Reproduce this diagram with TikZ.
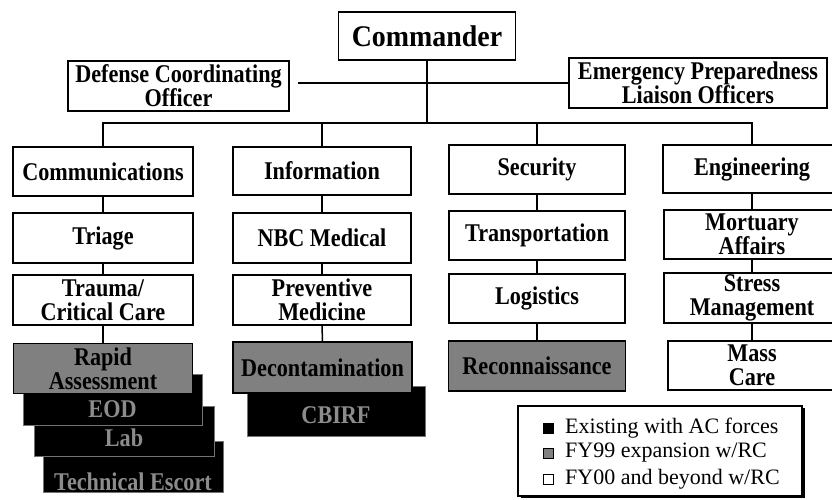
\documentclass[tikz,border=0pt]{standalone}
\usepackage{fontspec}
\setmainfont{Liberation Serif}
\newfontfamily\boxfont{Liberation Serif}[FakeStretch=0.87]
\newfontfamily\cmdfont{Liberation Serif}[FakeStretch=0.93]
\usetikzlibrary{shadows}
\begin{document}
\begin{tikzpicture}[x=1pt,y=-1pt,
  box/.style={draw, line width=1.5pt, fill=white, inner sep=0pt, align=center,
    font=\boxfont\bfseries\fontsize{25.5}{24}\selectfont},
  greybox/.style={box, fill=black!50},
  darkbox/.style={draw=black!55, line width=1pt, fill=black, inner sep=0pt},
  dimtext/.style={text=black!45, inner sep=0pt, font=\boxfont\bfseries\fontsize{25.5}{24}\selectfont},
  link/.style={line width=1.5pt},
  legsq/.style={draw, line width=0.8pt, minimum size=10pt, inner sep=0pt},
  legtext/.style={anchor=west, inner sep=0pt, font=\fontsize{22}{23}\selectfont}]
\useasboundingbox (0,0) rectangle (832,500);

% top level
\node[box, minimum width=177pt, minimum height=48pt,
  font=\cmdfont\bfseries\fontsize{30}{30}\selectfont] (cmd) at (427,36) {Commander};
\node[box, minimum width=221pt, minimum height=50pt] (dco) at (178.5,86) {Defense Coordinating\\Officer};
\node[box, minimum width=258pt, minimum height=50pt] (eplo) at (698,83) {Emergency Preparedness\\Liaison Officers};

% column 1
\node[box, minimum width=180pt, minimum height=49pt] (comm) at (103,171.5) {Communications};
\node[box, minimum width=180pt, minimum height=50pt] (triage) at (103,238) {Triage};
\node[box, minimum width=180pt, minimum height=50pt] (trauma) at (103,300) {Trauma/\\Critical Care};
\node[darkbox, minimum width=180pt, minimum height=51pt,
  label={[dimtext, yshift=-15pt]center:Technical Escort}] (escort) at (133,467) {};
\node[darkbox, minimum width=180pt, minimum height=50pt,
  label={[dimtext, yshift=-7pt]center:Lab}] (lab) at (124,431) {};
\node[darkbox, minimum width=179pt, minimum height=51pt,
  label={[dimtext, yshift=-10pt]center:EOD}] (eod) at (112.5,399.5) {};
\node[greybox, minimum width=179pt, minimum height=50pt] (rapid) at (103,368.5) {Rapid\\Assessment};

% column 2
\node[box, minimum width=178pt, minimum height=48pt] (info) at (322,171) {Information};
\node[box, minimum width=178pt, minimum height=50pt] (nbc) at (322,238) {NBC Medical};
\node[box, minimum width=178pt, minimum height=50pt] (prev) at (322,300) {Preventive\\Medicine};
\node[darkbox, minimum width=178pt, minimum height=50pt,
  label={[dimtext, yshift=-4pt]center:CBIRF}] (cbirf) at (336,411) {};
\node[greybox, minimum width=179pt, minimum height=51pt] (decon) at (322.5,367.5) {Decontamination};

% column 3
\node[box, minimum width=176pt, minimum height=49pt] (sec) at (537,169.5) {Security};
\node[box, minimum width=176pt, minimum height=49pt] (trans) at (537,235.5) {Transportation};
\node[box, minimum width=176pt, minimum height=49pt] (log) at (537,298.5) {Logistics};
\node[greybox, minimum width=177pt, minimum height=50pt] (recon) at (537,366) {Reconnaissance};

% column 4
\node[box, minimum width=178pt, minimum height=48pt] (eng) at (752,169) {Engineering};
\node[box, minimum width=176pt, minimum height=49pt] (mort) at (752,234.5) {Mortuary\\Affairs};
\node[box, minimum width=176pt, minimum height=50pt] (stress) at (752,298) {Stress\\Management};
\node[box, minimum width=168pt, minimum height=49pt] (mass) at (752,365.5) {Mass\\Care};

% connectors
\path ([xshift=8pt]dco.east) coordinate (dcoR);
\draw[link] (dcoR |- eplo.west) -- (eplo.west);
\coordinate (bus) at (427,123);
\draw[link] (cmd.south) -- (bus);
\draw[link] (comm.north) |- (bus -| eng.north) -- (eng.north);
\draw[link] (info.north) -- (info.north |- bus);
\draw[link] (sec.north) -- (sec.north |- bus);
\draw[link] (comm.south) -- (triage.north);
\draw[link] (triage.south) -- (trauma.north);
\draw[link] (trauma.south) -- (rapid.north);
\draw[link] (info.south) -- (nbc.north);
\draw[link] (nbc.south) -- (prev.north);
\draw[link] (prev.south) -- (decon.north);
\draw[link] (sec.south) -- (trans.north);
\draw[link] (trans.south) -- (log.north);
\draw[link] (log.south) -- (recon.north);
\draw[link] (eng.south) -- (mort.north);
\draw[link] (mort.south) -- (stress.north);
\draw[link] (stress.south) -- (mass.north);

% legend
\node[draw, line width=1.2pt, fill=white, minimum width=284pt, minimum height=90pt,
  drop shadow={opacity=1, fill=black, shadow xshift=3pt, shadow yshift=-2pt}] (leg) at (660,451) {};
\node[legsq, fill=black] (sq1) at (548,428) {};
\node[legtext] (t1) at (565,428) {Existing with AC forces};
\node[legsq, fill=black!50] (sq2) at (548,453) {};
\node[legtext] (t2) at (565,453) {FY99 expansion w/RC};
\node[legsq, fill=white] (sq3) at (548,479) {};
\node[legtext] (t3) at (565,479) {FY00 and beyond w/RC};
\end{tikzpicture}
\end{document}
